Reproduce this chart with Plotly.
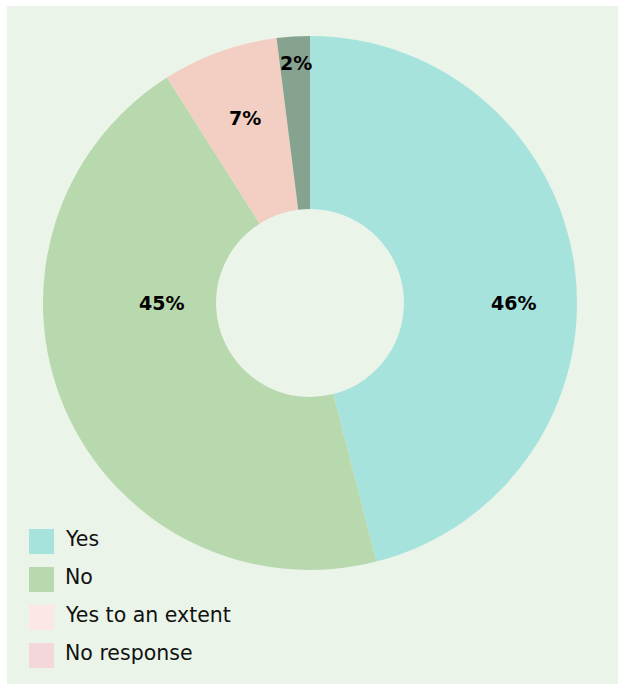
import math
import plotly.graph_objects as go

# Survey answers and their shares (%)
categories = ["Yes", "No", "Yes to an extent", "No response"]
shares = [46, 45, 7, 2]

slice_colors = ["#A6E3DC", "#B8D8AE", "#F2CFC2", "#86A38F"]
legend_colors = ["#A6E3DD", "#B8D8AE", "#FDE6E6", "#F3D7DB"]

W, H = 618, 684
BG = "#EAF4E8"
FONT = "DejaVu Sans"

# donut geometry in pixels
CX, CY, R_OUT = 310, 303, 267

fig = go.Figure()

fig.add_trace(go.Pie(
    labels=categories,
    values=shares,
    hole=0.352,
    sort=False,
    direction="clockwise",
    rotation=0,
    marker=dict(colors=slice_colors, line=dict(width=0)),
    textinfo="none",
    hoverinfo="label+percent",
    showlegend=False,
    domain=dict(x=[(CX - R_OUT) / W, (CX + R_OUT) / W],
                y=[1 - (CY + R_OUT) / H, 1 - (CY - R_OUT) / H]),
))

shapes = [
    # panel background
    dict(type="rect", xref="paper", yref="paper", x0=7 / W, x1=1, y0=0, y1=1 - 6 / H,
         fillcolor=BG, line=dict(width=0), layer="below"),
]
annotations = []

# Value labels: (angle from 12 o'clock clockwise in degrees, radius in px)
label_spots = [(90, 203), (270, 149), (340.6, 196), (356.7, 240)]
for v, (ang, rad) in zip(shares, label_spots):
    a = math.radians(ang)
    px = CX + rad * math.sin(a)
    py = CY - rad * math.cos(a)
    annotations.append(dict(text=f"<b>{v}%</b>", xref="paper", yref="paper",
                            x=px / W, y=1 - py / H, xanchor="center", yanchor="middle",
                            showarrow=False,
                            font=dict(family=FONT, size=19, color="#000000")))

# Legend rows: swatch + label
row_tops = [529, 567, 605, 643]
for name, col, top in zip(categories, legend_colors, row_tops):
    shapes.append(dict(type="rect", xref="paper", yref="paper",
                       x0=29 / W, x1=54 / W, y0=1 - (top + 25) / H, y1=1 - top / H,
                       fillcolor=col, line=dict(width=0)))
    annotations.append(dict(text=name, xref="paper", yref="paper",
                            x=63 / W, y=1 - (top + 10) / H, xanchor="left", yanchor="middle",
                            showarrow=False, font=dict(family=FONT, size=20.5, color="#111111")))

fig.update_layout(
    width=W, height=H,
    margin=dict(l=0, r=0, t=0, b=0),
    paper_bgcolor="#FFFFFF",
    shapes=shapes,
    annotations=annotations,
)

fig.write_html("out.html")
